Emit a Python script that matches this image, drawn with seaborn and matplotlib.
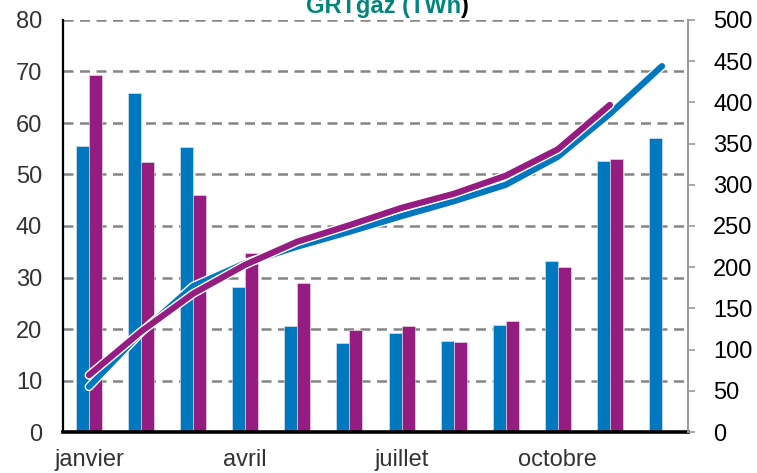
"""Monthly and cumulative GRTgaz volumes (TWh), bars + cumulative lines"""
import numpy as np
import pandas as pd
import matplotlib
matplotlib.use("Agg")
import matplotlib.pyplot as plt
import matplotlib.patheffects as pe
import seaborn as sns


MONTHS = ["janvier", "février", "mars", "avril", "mai", "juin",
          "juillet", "août", "septembre", "octobre", "novembre", "décembre"]
SHOWN_MONTHS = ["janvier", "avril", "juillet", "octobre"]
SERIES = ["année précédente", "année en cours"]

# monthly volumes (left axis, TWh)
PREV_MONTHLY = [55.5, 65.8, 55.4, 28.2, 20.6, 17.3,
                19.2, 17.6, 20.7, 33.3, 52.6, 57.1]
CURR_MONTHLY = [69.3, 52.5, 46.0, 34.7, 28.9, 19.8,
                20.5, 17.4, 21.5, 32.0, 53.1, np.nan]

# cumulative volumes (right axis, TWh)
PREV_CUMUL = [55, 121, 177, 205, 225, 243, 262, 280, 300, 334, 386, 444]
CURR_CUMUL = [69, 122, 168, 203, 231, 251, 272, 289, 311, 343, 397]

COLORS = ["#0078C0", "#951C80"]
TITLE_COLOR = "#00857F"
GRID_COLOR = "#858585"


def plot_grtgaz():
    sns.set_theme(style="white")
    plt.rcParams["font.family"] = ["Liberation Sans", "DejaVu Sans"]

    df = pd.DataFrame({
        "mois": MONTHS * 2,
        "serie": [SERIES[0]] * len(MONTHS) + [SERIES[1]] * len(MONTHS),
        "TWh": PREV_MONTHLY + CURR_MONTHLY,
    })

    fig = plt.figure(figsize=(7.57, 4.73), dpi=100)
    ax = fig.add_axes([63 / 757, 1 - 432 / 473, 625 / 757, 412 / 473])

    sns.barplot(data=df, x="mois", y="TWh", hue="serie",
                order=MONTHS, hue_order=SERIES, palette=COLORS,
                width=0.5, saturation=1, errorbar=None,
                edgecolor="#E8E8F0", linewidth=0.4, legend=False, ax=ax)

    ax.set_xlim(-0.5, 11.5)
    ax.set_ylim(0, 80)
    ax.set_yticks(range(0, 90, 10))
    ax.set_xticks(range(len(MONTHS)))
    ax.set_xticklabels([m if m in SHOWN_MONTHS else "" for m in MONTHS])
    ax.set_xlabel("")
    ax.set_ylabel("")
    ax.tick_params(axis="x", length=0, pad=12, labelsize=17, labelcolor="#333333")
    ax.tick_params(axis="y", length=0, pad=15, labelsize=17, labelcolor="#333333")
    ax.set_axisbelow(True)
    ax.yaxis.grid(True, color=GRID_COLOR, linestyle=(0, (4, 2.6)), linewidth=1.8)
    ax.xaxis.grid(False)
    for side in ["top", "right"]:
        ax.spines[side].set_visible(False)
    ax.spines["left"].set_color("black")
    ax.spines["left"].set_linewidth(1.6)
    ax.spines["bottom"].set_color("black")
    ax.spines["bottom"].set_linewidth(2.6)
    ax.spines["bottom"].set_zorder(5)

    # cumulative lines on the secondary axis
    ax2 = ax.twinx()
    outline = [pe.Stroke(linewidth=6.5, foreground="white"), pe.Normal()]
    sns.lineplot(x=np.arange(len(PREV_CUMUL)), y=PREV_CUMUL, color=COLORS[0],
                 linewidth=4.5, solid_capstyle="round", path_effects=outline, ax=ax2)
    sns.lineplot(x=np.arange(len(CURR_CUMUL)), y=CURR_CUMUL, color=COLORS[1],
                 linewidth=4.5, solid_capstyle="round", path_effects=outline, ax=ax2)
    ax2.set_ylim(0, 500)
    ax2.set_yticks(range(0, 550, 50))
    ax2.set_xlim(-0.5, 11.5)
    ax2.grid(False)
    ax2.tick_params(axis="y", right=True, direction="out", length=5, width=1.2,
                    color="#9A9A9A", pad=13, labelsize=17, labelcolor="black")
    for side in ["top", "left", "bottom"]:
        ax2.spines[side].set_visible(False)
    ax2.spines["right"].set_color("#9A9A9A")
    ax2.spines["right"].set_linewidth(1.4)

    # title, partly cut at the top of the picture as in the source; closing bracket is black
    fig.text(461 / 757, 1 - 13 / 473, "GRTgaz (TWh", color=TITLE_COLOR,
             fontsize=17, fontweight="bold", ha="right", va="baseline")
    fig.text(461 / 757, 1 - 13 / 473, ")", color="black",
             fontsize=17, fontweight="bold", ha="left", va="baseline")

    fig.savefig("out.png", dpi=100)


if __name__ == "__main__":
    plot_grtgaz()
